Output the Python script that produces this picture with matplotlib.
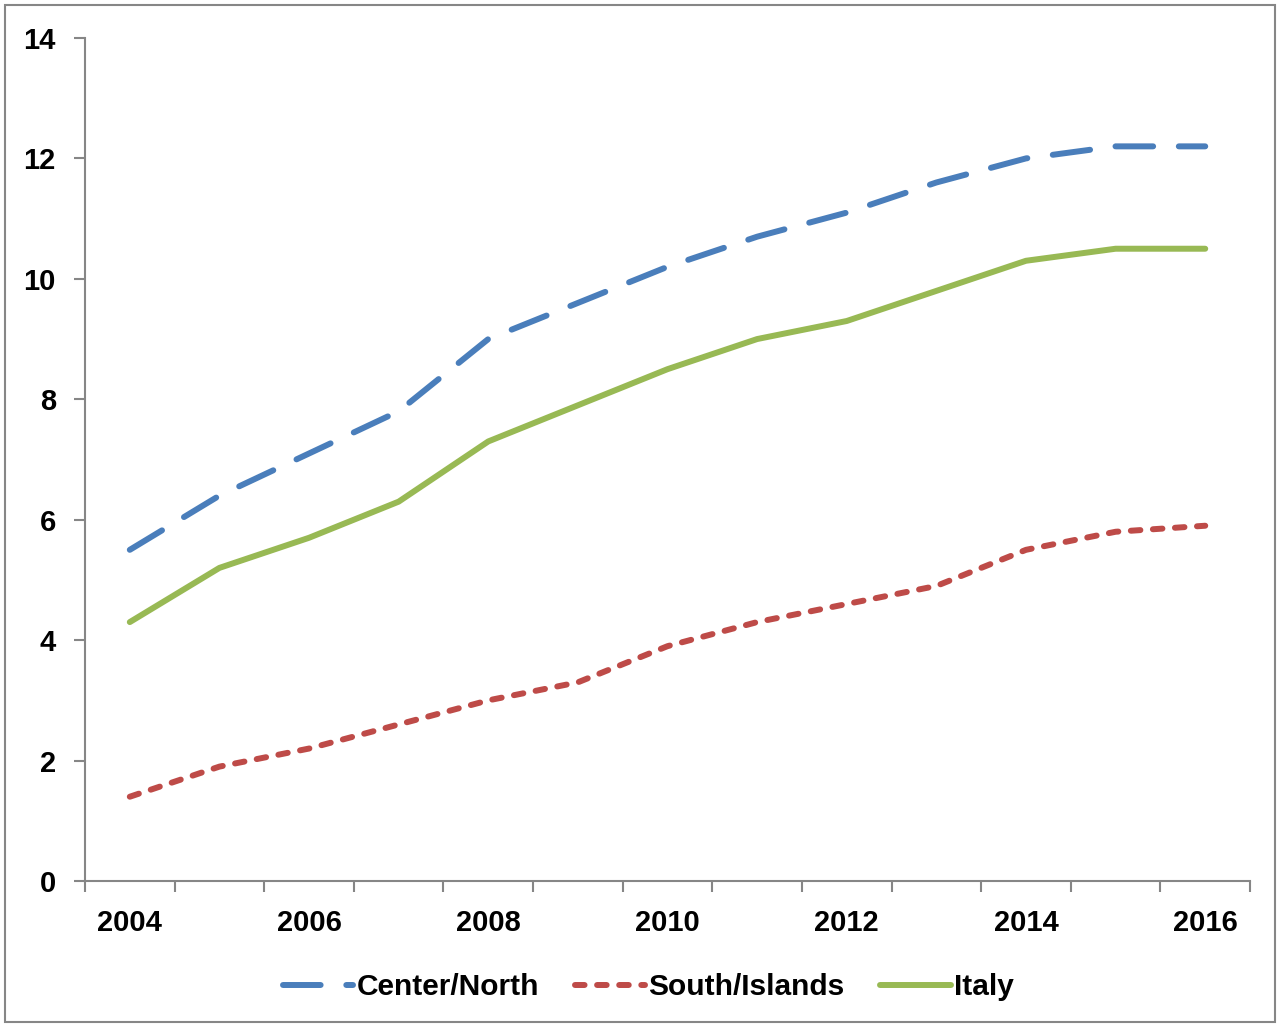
import numpy as np
import matplotlib
matplotlib.use("Agg")
import matplotlib.pyplot as plt
from matplotlib.patches import Rectangle

YEARS = list(range(2004, 2017))
CENTER_NORTH = [5.5, 6.4, 7.1, 7.8, 9.0, 9.6, 10.2, 10.7, 11.1, 11.6, 12.0, 12.2, 12.2]
SOUTH_ISLANDS = [1.4, 1.9, 2.2, 2.6, 3.0, 3.3, 3.9, 4.3, 4.6, 4.9, 5.5, 5.8, 5.9]
ITALY = [4.3, 5.2, 5.7, 6.3, 7.3, 7.9, 8.5, 9.0, 9.3, 9.8, 10.3, 10.5, 10.5]
LABEL_YEARS = [2004, 2006, 2008, 2010, 2012, 2014, 2016]

plt.rcParams["font.family"] = ["Liberation Sans", "DejaVu Sans"]
plt.rcParams["font.weight"] = "bold"

AXIS_GRAY = "#868686"
LW = 4.3

fig = plt.figure(figsize=(12.8, 10.26), dpi=100)
ax = fig.add_axes([0.0664, 0.1413, 0.9102, 0.8217])

ax.plot(YEARS, CENTER_NORTH, color="#4A7EBB", lw=LW, dashes=(6.3, 4.3),
        dash_capstyle="round", solid_capstyle="round", label="Center/North")
ax.plot(YEARS, SOUTH_ISLANDS, color="#BE4B48", lw=LW, dashes=(1.6, 2.1),
        dash_capstyle="round", label="South/Islands")
ax.plot(YEARS, ITALY, color="#98B954", lw=LW, solid_capstyle="round",
        label="Italy")

ax.set_xlim(YEARS[0] - 0.5, YEARS[-1] + 0.5)
ax.set_ylim(0, 14)
ax.set_yticks(np.arange(0, 15, 2))

ax.set_xticks(np.arange(YEARS[0] - 0.5, YEARS[-1] + 1, 1))
ax.set_xticklabels([])
ax.set_xticks(LABEL_YEARS, minor=True)
ax.set_xticklabels([str(y) for y in LABEL_YEARS], minor=True)
ax.tick_params(axis="x", which="major", direction="out", length=8,
               width=1.5, color=AXIS_GRAY)
ax.tick_params(axis="x", which="minor", length=0, pad=20, labelsize=21)
ax.tick_params(axis="y", direction="out", length=8, width=1.5,
               color=AXIS_GRAY, pad=13, labelsize=21)

for s in ["top", "right"]:
    ax.spines[s].set_visible(False)
for s in ["left", "bottom"]:
    ax.spines[s].set_color(AXIS_GRAY)
    ax.spines[s].set_linewidth(1.5)

ax.legend(loc="center", bbox_to_anchor=(0.4835, -0.126), ncol=3, frameon=False,
          fontsize=21.5, handlelength=2.35, handletextpad=0.12,
          columnspacing=1.2)

fig.patches.append(Rectangle((5 / 1280, 4 / 1026), 1270 / 1280, 1017 / 1026,
                             transform=fig.transFigure, fill=False,
                             edgecolor=AXIS_GRAY, lw=1.5))

fig.savefig("out.png", dpi=100, facecolor="white")
